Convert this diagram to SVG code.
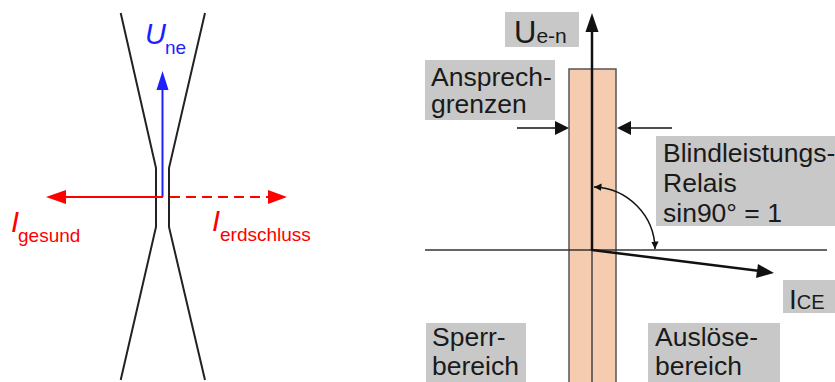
<svg xmlns="http://www.w3.org/2000/svg" width="835" height="382" viewBox="0 0 835 382">
<style>
.t{font-family:"Liberation Sans",Arial,sans-serif;}
.box{fill:#C8C8C8;}
.lbl{font-family:"Liberation Sans",Arial,sans-serif;font-size:26.5px;fill:#1a1a1a;}
.red{fill:#FF0000;}
.blue{fill:#1E1EFF;}
</style>
<defs>
<marker id="ah" viewBox="0 0 10 10" refX="10" refY="5" markerWidth="5" markerHeight="5" orient="auto-start-reverse" markerUnits="strokeWidth">
<path d="M0,0 L10,5 L0,10 z" fill="#111"/>
</marker>
</defs>
<rect width="835" height="382" fill="#fff"/>

<g id="left-figure">
<g id="conductor" fill="none" stroke="#222" stroke-width="2">
<polyline points="120.7,13 156,168 156,227 120.7,380"/>
<polyline points="205,13 169,168 169,227 205,380"/>
</g>
<g id="u-ne">
<line x1="162.5" y1="197" x2="162.5" y2="88" stroke="#1E1EFF" stroke-width="2"/>
<polygon points="162.5,71 156.5,90 168.5,90" class="blue"/>
<text class="t blue" x="145" y="44" font-size="29" font-style="italic">U</text>
<text class="t blue" x="165" y="54" font-size="19">ne</text>
</g>
<g id="i-gesund">
<line x1="163" y1="197" x2="64" y2="197" stroke="#FF0000" stroke-width="2"/>
<polygon points="46,197 66,190 66,204" class="red"/>
<text class="t red" x="11" y="232" font-size="29" font-style="italic">I</text>
<text class="t red" x="18" y="242" font-size="19">gesund</text>
</g>
<g id="i-erdschluss">
<line x1="170" y1="197" x2="269" y2="197" stroke="#FF0000" stroke-width="2" stroke-dasharray="10 6"/>
<polygon points="287,197 268,190 268,204" class="red"/>
<text class="t red" x="212" y="231" font-size="29" font-style="italic">I</text>
<text class="t red" x="220" y="241" font-size="19">erdschluss</text>
</g>
</g>

<g id="band">
<rect x="569" y="69" width="47" height="320" fill="#F6CCB0" stroke="#555" stroke-width="1.5"/>
<line x1="592" y1="250" x2="592" y2="382" stroke="#444" stroke-width="1.5"/>
</g>

<g id="connectors" fill="none" stroke="#111">
<line x1="425" y1="250" x2="827" y2="250" stroke="#333" stroke-width="1.5"/>
<line x1="592" y1="251" x2="592" y2="30" stroke-width="2.5"/>
<polygon points="592,13 585.5,32 598.5,32" fill="#111" stroke="none"/>
<line x1="517" y1="128" x2="557" y2="128" stroke-width="1.5"/>
<polygon points="569,128 555,121 555,135" fill="#111" stroke="none"/>
<line x1="630" y1="128" x2="672" y2="128" stroke-width="1.5"/>
<polygon points="617,128 631,121 631,135" fill="#111" stroke="none"/>
<path d="M594,187 A63,63 0 0 1 655,249" stroke-width="1.5" marker-start="url(#ah)" marker-end="url(#ah)"/>
<line x1="592" y1="250" x2="760" y2="271" stroke-width="2.5"/>
<polygon points="774,273 758,264 756,278" fill="#111" stroke="none"/>
</g>

<g id="label-uen">
<rect class="box" x="505" y="12" width="74" height="35"/>
<text class="t" x="514" y="43" font-size="31" fill="#1a1a1a">U<tspan font-size="21">e-n</tspan></text>
</g>
<g id="label-ansprech">
<rect class="box" x="425" y="60" width="130" height="60"/>
<text class="lbl" x="431" y="86">Ansprech-</text>
<text class="lbl" x="431" y="113">grenzen</text>
</g>
<g id="label-blind">
<rect class="box" x="656" y="136" width="179" height="90"/>
<text class="lbl" x="663" y="162">Blindleistungs-</text>
<text class="lbl" x="663" y="192">Relais</text>
<text class="lbl" x="663" y="222">sin90° = 1</text>
</g>
<g id="label-ice">
<rect class="box" x="783" y="280" width="52" height="33"/>
<text class="t" x="789" y="309" font-size="28" fill="#1a1a1a">I<tspan font-size="20">CE</tspan></text>
</g>
<g id="label-sperr">
<rect class="box" x="426" y="323" width="100" height="59"/>
<text class="lbl" x="432" y="346">Sperr-</text>
<text class="lbl" x="432" y="375">bereich</text>
</g>
<g id="label-ausloese">
<rect class="box" x="648" y="323" width="132" height="59"/>
<text class="lbl" x="655" y="346">Auslöse-</text>
<text class="lbl" x="655" y="375">bereich</text>
</g>
</svg>
